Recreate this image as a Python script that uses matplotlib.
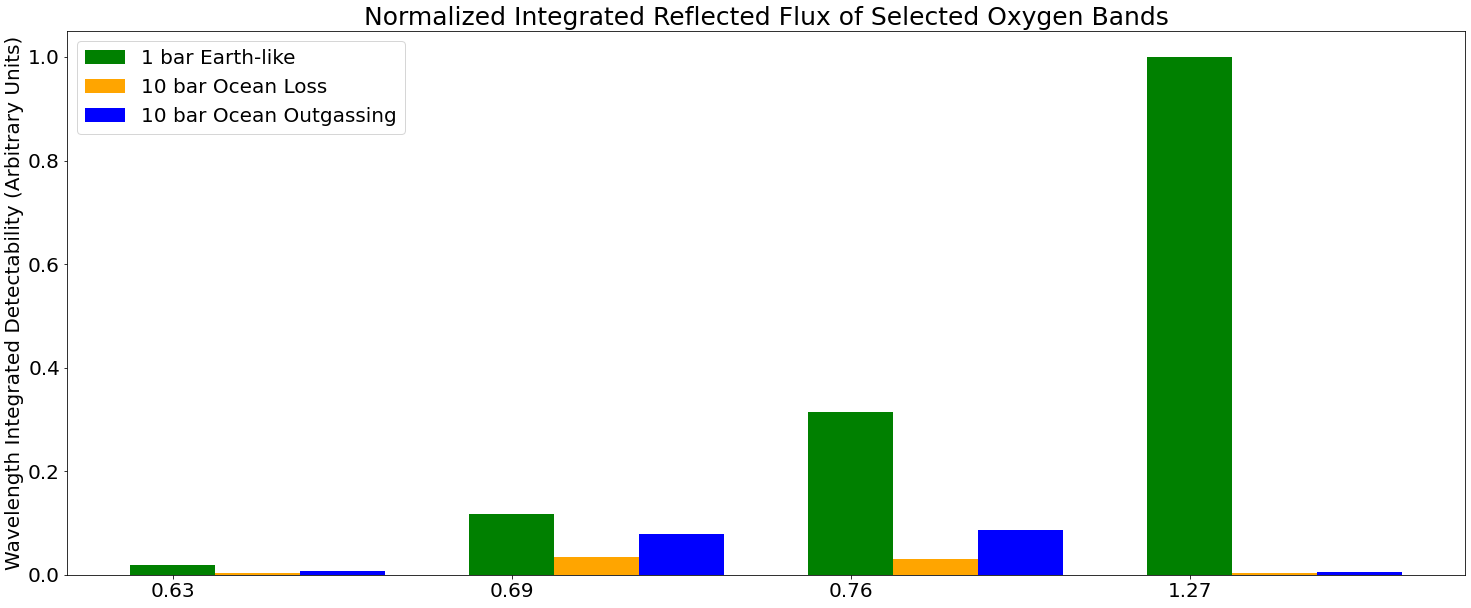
import numpy as np
import matplotlib
matplotlib.use("Agg")
import matplotlib.pyplot as plt

bands = ["0.63", "0.69", "0.76", "1.27"]
earth_like = [0.019, 0.118, 0.315, 1.0]
ocean_loss = [0.004, 0.035, 0.031, 0.004]
ocean_outgassing = [0.008, 0.079, 0.087, 0.006]

width = 0.25
x = np.arange(len(bands))

fig = plt.figure(figsize=(1471 / 72, 608 / 72), dpi=72)
ax = fig.add_axes([0.0455, 0.0543, 0.9505, 0.8947])

ax.bar(x, earth_like, width, color="green", label="1 bar Earth-like")
ax.bar(x + width, ocean_loss, width, color="orange", label="10 bar Ocean Loss")
ax.bar(x + 2 * width, ocean_outgassing, width, color="blue", label="10 bar Ocean Outgassing")

ax.set_xticks(x)
ax.set_xticklabels(bands)
ax.tick_params(labelsize=20)
ax.set_ylabel("Wavelength Integrated Detectability (Arbitrary Units)", fontsize=20)
ax.set_title("Normalized Integrated Reflected Flux of Selected Oxygen Bands", fontsize=25)
ax.legend(loc="upper left", fontsize=20)

fig.savefig("out.png", dpi=72)
